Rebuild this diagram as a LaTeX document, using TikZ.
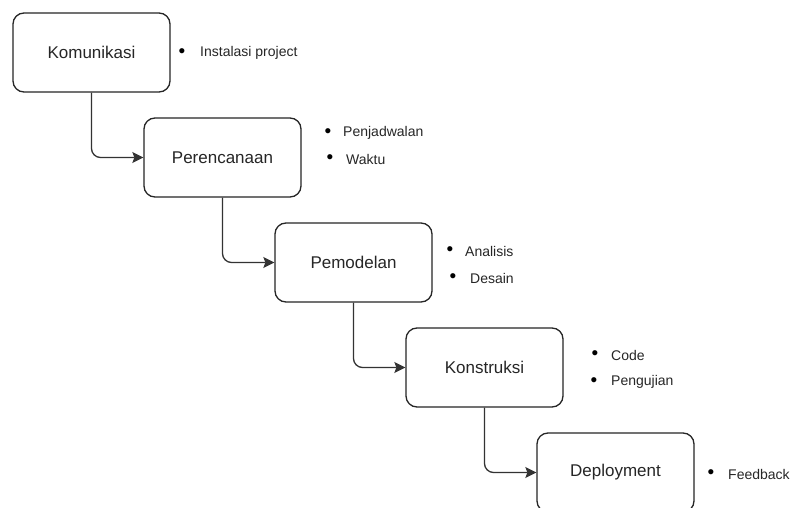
\documentclass[tikz,border=0pt]{standalone}
\usepackage{fontspec}
\setmainfont{Liberation Sans}
\usetikzlibrary{arrows.meta}
\begin{document}
\begin{tikzpicture}[x=1pt,y=-1pt,
  stage/.style={draw=black!85, line width=1.3pt, rounded corners=11pt,
    minimum width=157pt, minimum height=79pt, inner sep=0pt,
    font=\fontsize{17}{19}\selectfont, text=black!85},
  conn/.style={draw=black!80, line width=1.3pt, rounded corners=9pt,
    -{Stealth[length=11pt,width=11pt,inset=2pt]}},
  bul/.style={inner sep=0pt, font=\fontsize{19}{20}\selectfont, text=black},
  item/.style={anchor=west, inner sep=0pt, font=\fontsize{14}{16}\selectfont, text=black!85}]
\clip (0,0) rectangle (792,508);
\fill[white] (0,0) rectangle (792,508);

\node[stage] (s1) at (91.5,52.5) {Komunikasi};
\node[stage] (s2) at (222.5,157.5) {Perencanaan};
\node[stage] (s3) at (353.5,262.5) {Pemodelan};
\node[stage] (s4) at (484.5,367.5) {Konstruksi};
\node[stage] (s5) at (615.5,472.5) {Deployment};

\draw[conn] (s1.south) |- (s2.west);
\draw[conn] (s2.south) |- (s3.west);
\draw[conn] (s3.south) |- (s4.west);
\draw[conn] (s4.south) |- (s5.west);

\node[bul] (d1) at (182,53) {\textbullet};
\node[item] (t1) at (200,53) {Instalasi project};

\node[bul] (d2a) at (328,133) {\textbullet};
\node[item] (t2a) at (343,133) {Penjadwalan};
\node[bul] (d2b) at (330,159) {\textbullet};
\node[item] (t2b) at (346,159) {Waktu};

\node[bul] (d3a) at (450,251) {\textbullet};
\node[item] (t3a) at (465,251) {Analisis};
\node[bul] (d3b) at (453,278) {\textbullet};
\node[item] (t3b) at (470,278) {Desain};

\node[bul] (d4a) at (595,355) {\textbullet};
\node[item] (t4a) at (611,355) {Code};
\node[bul] (d4b) at (594,382) {\textbullet};
\node[item] (t4b) at (611,382) {Pengujian};

\node[bul] (d5) at (711,474) {\textbullet};
\node[item] (t5) at (728,474) {Feedback};
\end{tikzpicture}
\end{document}
